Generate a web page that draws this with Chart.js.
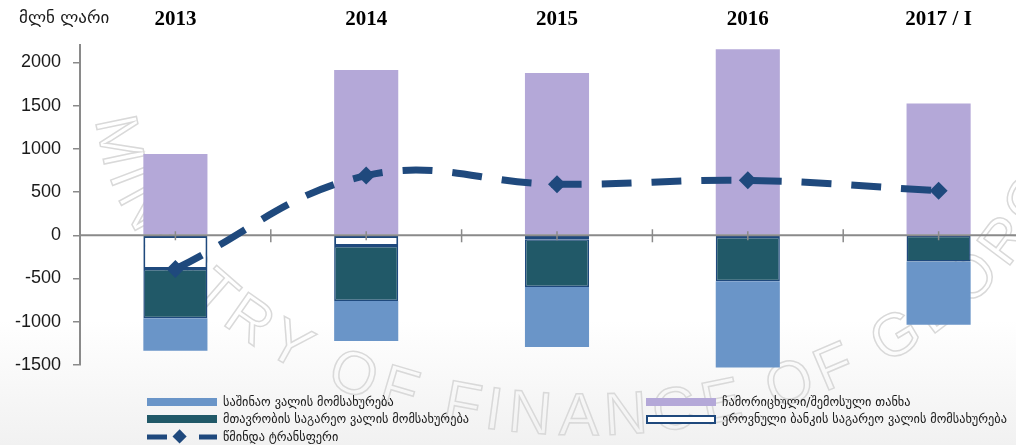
<!DOCTYPE html>
<html>
<head>
<meta charset="utf-8">
<script src="https://cdn.jsdelivr.net/npm/chart.js@4.4.0/dist/chart.umd.min.js"></script>
<style>
    body { margin: 0; overflow: hidden; background: #fff; }
    #wrap { position: relative; width: 1043px; height: 445px; background: linear-gradient(to bottom, #fff 0%, #fff 72%, #f1f1f1 100%); }
    #myChart { position: absolute; left: 0; top: 0; }
    .legendCol { position: absolute; top: 393px; }
    .legendItem { height: 17.5px; display: flex; align-items: center; font: 12.3px "DejaVu Sans", sans-serif; color: #1a1a1a; white-space: nowrap; }
    .swatch { width: 70px; height: 8px; margin-right: 6px; box-sizing: border-box; }
</style>
</head>
<body>
<div id="wrap">
    <canvas id="myChart" width="1043" height="445"></canvas>
    <div class="legendCol" id="legendLeft" style="left:147px"></div>
    <div class="legendCol" id="legendRight" style="left:646px"></div>
</div>
<script>
const years = ['2013', '2014', '2015', '2016', '2017 / I'];
const transferIn = [940, 1910, 1875, 2150, 1525];
const nbExternal = [-390, -125, -45, -20, -5];
const govExternal = [-570, -635, -552, -512, -297];
const domestic = [-375, -463, -694, -998, -732];
const netTransfer = [-390, 690, 590, 635, 515];
const yTicks = [-1500, -1000, -500, 0, 500, 1000, 1500, 2000];

const unitLabel = 'მლნ ლარი';
const sealText = 'MINISTRY OF FINANCE OF GEORGIA';
const names = {
    domestic: 'საშინაო ვალის მომსახურება',
    gov: 'მთავრობის საგარეო ვალის მომსახურება',
    net: 'წმინდა ტრანსფერი',
    transferIn: 'ჩამორიცხული/შემოსული თანხა',
    nb: 'ეროვნული ბანკის საგარეო ვალის მომსახურება'
};

const lineColor = '#1F497D';
const axisColor = '#8a8a8a';

// faint seal lettering behind the bars, set along the lower half of an ellipse
const seal = {
    id: 'seal',
    beforeDatasetsDraw(chart) {
        const ctx = chart.ctx;
        const cx = 585, cy = 95, rx = 490, ry = 340;
        const t0 = 200 * Math.PI / 180, t1 = -20 * Math.PI / 180;
        const steps = 900;
        const pts = [];
        let len = 0, sBottom = 0;
        for (let i = 0; i <= steps; i++) {
            const t = t0 + (t1 - t0) * i / steps;
            const p = { x: cx + rx * Math.cos(t), y: cy + ry * Math.sin(t) };
            if (i > 0) len += Math.hypot(p.x - pts[i - 1].x, p.y - pts[i - 1].y);
            p.s = len;
            if (i === steps / 2) sBottom = len;
            pts.push(p);
        }
        ctx.save();
        ctx.font = '60px "Liberation Sans", sans-serif';
        ctx.strokeStyle = '#d9d9d9';
        ctx.lineWidth = 1.5;
        ctx.textAlign = 'center';
        ctx.textBaseline = 'alphabetic';
        const gap = 7;
        const chars = sealText.split('');
        const widths = chars.map(c => ctx.measureText(c).width);
        const total = widths.reduce((a, b) => a + b, 0) + gap * (chars.length - 1);
        let s = sBottom - total / 2;
        chars.forEach((c, i) => {
            const mid = s + widths[i] / 2;
            s += widths[i] + gap;
            if (c === ' ') return;
            let j = pts.findIndex(p => p.s >= mid);
            if (j < 1) j = 1;
            const a = pts[j - 1], b = pts[j];
            ctx.save();
            ctx.translate(b.x, b.y);
            ctx.rotate(Math.atan2(b.y - a.y, b.x - a.x));
            ctx.strokeText(c, 0, 0);
            ctx.restore();
        });
        ctx.restore();
    }
};

// zero axis with crossing ticks, drawn over the bars but under the line
const zeroAxis = {
    id: 'zeroAxis',
    beforeDatasetDraw(chart, args) {
        if (args.index !== 0) return;
        const ctx = chart.ctx;
        const x = chart.scales.x;
        const y0 = chart.scales.y.getPixelForValue(0);
        ctx.save();
        ctx.strokeStyle = axisColor;
        ctx.lineWidth = 2;
        ctx.beginPath();
        ctx.moveTo(chart.chartArea.left, y0);
        ctx.lineTo(chart.chartArea.right, y0);
        ctx.stroke();
        ctx.lineWidth = 1.5;
        for (let i = 0; i < years.length; i++) {
            const cx = x.getPixelForValue(i);
            ctx.beginPath();
            ctx.moveTo(cx, y0 - 4);
            ctx.lineTo(cx, y0 + 5);
            ctx.stroke();
            if (i < years.length - 1) {
                const bx = (cx + x.getPixelForValue(i + 1)) / 2;
                ctx.beginPath();
                ctx.moveTo(bx, y0 - 6);
                ctx.lineTo(bx, y0 + 7);
                ctx.stroke();
            }
        }
        ctx.restore();
    },
    afterDraw(chart) {
        const ctx = chart.ctx;
        const x = chart.scales.x;
        ctx.save();
        ctx.fillStyle = '#000';
        ctx.textBaseline = 'middle';
        ctx.textAlign = 'center';
        ctx.font = 'bold 21px "Liberation Serif", serif';
        years.forEach((yr, i) => ctx.fillText(yr, x.getPixelForValue(i), 20));
        ctx.textAlign = 'left';
        ctx.font = '17px "DejaVu Sans", sans-serif';
        ctx.fillStyle = '#1a1a1a';
        ctx.fillText(unitLabel, 19, 19);
        ctx.restore();
    }
};

const ctx = document.getElementById('myChart').getContext('2d');
const myChart = new Chart(ctx, {
    type: 'bar',
    data: {
        labels: years,
        datasets: [{
            type: 'line',
            label: names.net,
            data: netTransfer,
            stack: 'net',
            borderColor: lineColor,
            borderWidth: 7,
            borderDash: [30, 20],
            borderCapStyle: 'butt',
            tension: 0.4,
            fill: false,
            pointStyle: 'rectRot',
            pointRadius: 9,
            pointBackgroundColor: lineColor,
            pointBorderWidth: 0
        }, {
            label: names.transferIn,
            data: transferIn,
            stack: 'bars',
            backgroundColor: '#B4A8D8',
            borderWidth: 0
        }, {
            label: names.nb,
            data: nbExternal,
            stack: 'bars',
            backgroundColor: '#FFFFFF',
            borderColor: lineColor,
            borderWidth: 2,
            borderSkipped: false
        }, {
            label: names.gov,
            data: govExternal,
            stack: 'bars',
            backgroundColor: '#215968',
            borderColor: lineColor,
            borderWidth: 1.5,
            borderSkipped: false
        }, {
            label: names.domestic,
            data: domestic,
            stack: 'bars',
            backgroundColor: '#6A95C8',
            borderWidth: 0,
            clip: false
        }]
    },
    options: {
        responsive: false,
        animation: false,
        devicePixelRatio: 1,
        layout: { padding: { top: 45, bottom: 80, left: 0, right: 0 } },
        datasets: { bar: { categoryPercentage: 1, barPercentage: 0.336 } },
        plugins: { legend: { display: false }, tooltip: { enabled: false } },
        scales: {
            x: {
                stacked: true,
                offset: true,
                ticks: { display: false },
                grid: { display: false },
                border: { display: false },
                afterFit: s => { s.height = 0; }
            },
            y: {
                stacked: true,
                min: -1500,
                max: 2200,
                afterBuildTicks: s => { s.ticks = yTicks.map(v => ({ value: v })); },
                afterFit: s => { s.width = 80; },
                ticks: {
                    color: '#1a1a1a',
                    padding: 12,
                    font: { family: '"Liberation Sans", sans-serif', size: 18 },
                    callback: v => String(v)
                },
                grid: { drawOnChartArea: false, tickLength: 7, color: axisColor, lineWidth: 1.5 },
                border: { color: axisColor, width: 2 }
            }
        }
    },
    plugins: [seal, zeroAxis]
});

// legend, two columns under the plot
function swatchFor(ds) {
    if (ds.type === 'line') {
        return '<svg width="70" height="16" style="margin-right:6px">' +
            '<line x1="0" y1="8" x2="20" y2="8" stroke="' + lineColor + '" stroke-width="5"/>' +
            '<rect x="29" y="1" width="10" height="10" fill="' + lineColor + '" transform="rotate(45 34 6) translate(0 2)"/>' +
            '<line x1="52" y1="8" x2="70" y2="8" stroke="' + lineColor + '" stroke-width="5"/></svg>';
    }
    let style = 'background:' + ds.backgroundColor + ';';
    if (ds.borderWidth) style += 'border:2px solid ' + ds.borderColor + ';height:9px;';
    return '<div class="swatch" style="' + style + '"></div>';
}

function addLegendItem(colId, ds) {
    const item = document.createElement('div');
    item.className = 'legendItem';
    item.innerHTML = swatchFor(ds) + '<span>' + ds.label + '</span>';
    document.getElementById(colId).appendChild(item);
}

const sets = myChart.data.datasets;
const byLabel = label => sets.find(d => d.label === label);
addLegendItem('legendLeft', Object.assign({}, byLabel(names.domestic)));
addLegendItem('legendLeft', Object.assign({}, byLabel(names.gov), { borderWidth: 0 }));
addLegendItem('legendLeft', Object.assign({ type: 'line' }, byLabel(names.net)));
addLegendItem('legendRight', byLabel(names.transferIn));
addLegendItem('legendRight', byLabel(names.nb));
</script>
</body>
</html>
